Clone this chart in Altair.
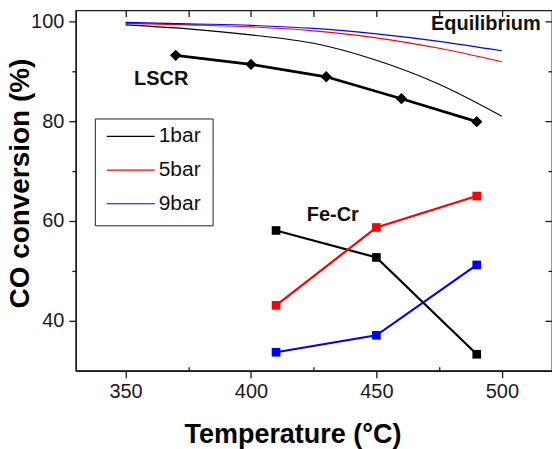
import altair as alt
import pandas as pd

# ---------------- data ----------------
series = ["1bar", "5bar", "9bar"]
series_colors = ["#000000", "#ff0000", "#0000ff"]

eq_temps = [350, 375, 400, 425, 450, 475, 500]
eq_1bar = [99.3, 98.5, 97.3, 95.6, 92.2, 87.4, 81.0]
eq_5bar = [99.6, 99.3, 98.9, 98.1, 96.7, 94.6, 91.9]
eq_9bar = [99.8, 99.5, 99.2, 98.6, 97.5, 96.0, 94.1]

lscr_temps = [370, 400, 430, 460, 490]
lscr_conv = [93.2, 91.4, 88.9, 84.5, 79.9]

fecr_temps = [410, 450, 490]
fecr_1bar = [58.1, 52.7, 33.3]
fecr_5bar = [43.1, 58.7, 65.0]
fecr_9bar = [33.7, 37.1, 51.2]

label_text_center = ["LSCR", "Fe-Cr"]
label_x_center = [364.2, 432.6]
label_y_center = [87.2, 60.0]
label_text_right = ["Equilibrium"]
label_x_right = [515.5]
label_y_right = [98.2]

x_major = [350, 400, 450, 500]
x_minor = [375, 425, 475]
x_top = [350, 375, 400, 425, 450, 475, 500]
y_major = [40, 60, 80, 100]
y_minor = [50, 70, 90]

# ---------------- tables ----------------
eq_df = pd.DataFrame({
    "T": eq_temps * 3,
    "conv": eq_1bar + eq_5bar + eq_9bar,
    "series": [s for s in series for _ in eq_temps],
})
lscr_df = pd.DataFrame({"T": lscr_temps, "conv": lscr_conv})
fecr_df = pd.DataFrame({
    "T": fecr_temps * 3,
    "conv": fecr_1bar + fecr_5bar + fecr_9bar,
    "series": [s for s in series for _ in fecr_temps],
})
lab_c = pd.DataFrame({"T": label_x_center, "conv": label_y_center, "txt": label_text_center})
lab_r = pd.DataFrame({"T": label_x_right, "conv": label_y_right, "txt": label_text_right})

xs = alt.Scale(domain=[330.2, 520], nice=False, zero=False)
ys = alt.Scale(domain=[30, 102.2], nice=False, zero=False)
cs = alt.Scale(domain=series, range=series_colors)

# ---------------- axes ----------------
ax_bottom = alt.Axis(orient="bottom", values=x_major, tickSize=7, labelPadding=4,
                     title="Temperature (°C)", titleFontSize=27, titleFontWeight="bold",
                     titleX=217, titleY=72, titleAlign="center", titleBaseline="alphabetic",
                     titleAngle=0)
ax_bottom_minor = alt.Axis(orient="bottom", values=x_minor, tickSize=4, offset=-4,
                           labels=False, domain=False, title=None)
ax_top = alt.Axis(orient="top", values=x_top, tickSize=6, offset=-6,
                  labels=False, domain=False, title=None)
ay_left = alt.Axis(orient="left", values=y_major, tickSize=7, labelPadding=5,
                   title="CO conversion (%)", titleFontSize=28, titleFontWeight="bold",
                   titleAngle=270, titleX=-55, titleY=173, titleAlign="center",
                   titleBaseline="middle")
ay_left_minor = alt.Axis(orient="left", values=y_minor, tickSize=4,
                         labels=False, domain=False, title=None)
ay_right = alt.Axis(orient="right", values=y_major, tickSize=7, offset=-7,
                    labels=False, domain=False, title=None)
ay_right_minor = alt.Axis(orient="right", values=y_minor, tickSize=4, offset=-4,
                          labels=False, domain=False, title=None)

legend = alt.Legend(orient="none", legendX=19, legendY=108.3, title=None,
                    strokeColor="#222222", fillColor="white", padding=11,
                    symbolType="stroke", symbolSize=2304, symbolStrokeWidth=1.2,
                    labelFontSize=21, labelColor="#111111", clipHeight=14,
                    rowPadding=12.7, labelOffset=3, labelLimit=200)

# ---------------- layers ----------------
eq = alt.Chart(eq_df).mark_line(interpolate="monotone", strokeWidth=1.1).encode(
    x=alt.X("T:Q", scale=xs, axis=ax_bottom),
    y=alt.Y("conv:Q", scale=ys, axis=ay_left),
    color=alt.Color("series:N", scale=cs, legend=legend),
    order=alt.Order("T:Q"),
)

lscr_line = alt.Chart(lscr_df).mark_line(color="black", strokeWidth=2.8).encode(
    x=alt.X("T:Q", scale=xs, axis=ax_bottom_minor),
    y=alt.Y("conv:Q", scale=ys, axis=ay_left_minor),
)
lscr_pts = alt.Chart(lscr_df).mark_point(shape="diamond", filled=True, size=128,
                                          color="black", opacity=1).encode(
    x=alt.X("T:Q", scale=xs, axis=ax_top),
    y=alt.Y("conv:Q", scale=ys, axis=ay_right),
)

fecr_line = alt.Chart(fecr_df).mark_line(strokeWidth=2.2).encode(
    x=alt.X("T:Q", scale=xs, axis=None),
    y=alt.Y("conv:Q", scale=ys, axis=ay_right_minor),
    color=alt.Color("series:N", scale=cs, legend=None),
    order=alt.Order("T:Q"),
)
fecr_pts = alt.Chart(fecr_df).mark_square(size=75, opacity=1).encode(
    x=alt.X("T:Q", scale=xs, axis=None),
    y=alt.Y("conv:Q", scale=ys, axis=None),
    color=alt.Color("series:N", scale=cs, legend=None),
)

txt_c = alt.Chart(lab_c).mark_text(fontSize=20, fontWeight="bold", align="center",
                                   baseline="alphabetic", color="#111111").encode(
    x=alt.X("T:Q", scale=xs, axis=None),
    y=alt.Y("conv:Q", scale=ys, axis=None),
    text="txt:N",
)
txt_r = alt.Chart(lab_r).mark_text(fontSize=20, fontWeight="bold", align="right",
                                   baseline="alphabetic", color="#111111").encode(
    x=alt.X("T:Q", scale=xs, axis=None),
    y=alt.Y("conv:Q", scale=ys, axis=None),
    text="txt:N",
)

chart = alt.layer(eq, lscr_line, lscr_pts, fecr_line, fecr_pts, txt_c, txt_r).resolve_axis(
    x="independent", y="independent"
).properties(
    width=477, height=361,
    autosize=alt.AutoSizeParams(type="none"),
    padding={"left": 76, "top": 10, "right": 0, "bottom": 78},
).configure(
    font="Liberation Sans",
).configure_view(
    stroke="#1a1a1a", strokeWidth=1.3,
).configure_axis(
    grid=False, labelFontSize=20, labelColor="#1a1a1a", labelFont="Liberation Sans",
    titleFont="Liberation Sans", titleColor="#000000",
    domainColor="#1a1a1a", domainWidth=1.3, tickColor="#1a1a1a", tickWidth=1.3,
).configure_legend(
    labelFont="Liberation Sans",
)

chart.save("out.html", embed_options={"renderer": "svg", "actions": False})
